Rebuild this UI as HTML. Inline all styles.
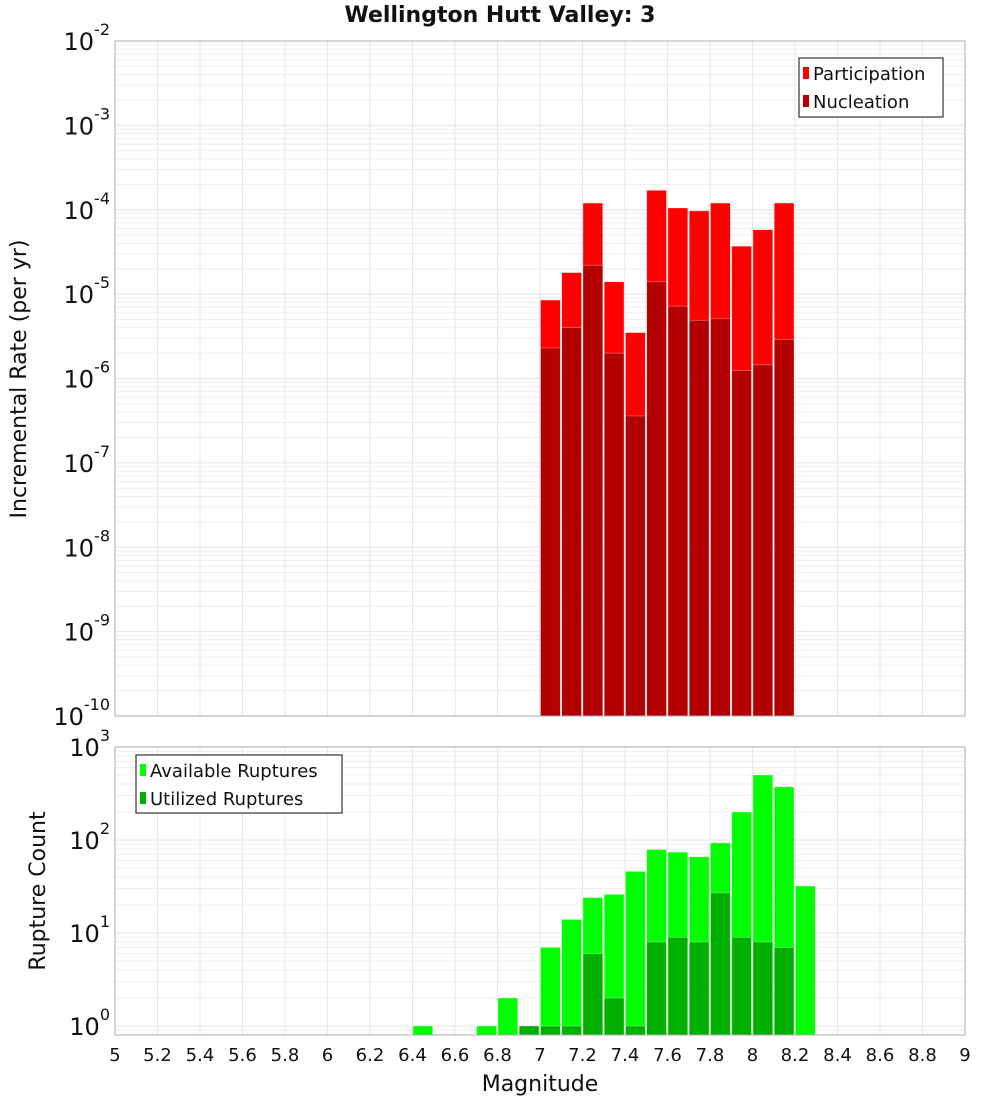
<!DOCTYPE html>
<html><head><meta charset="utf-8"><style>
body{margin:0;background:#fff;font-family:"Liberation Sans","DejaVu Sans",sans-serif}
svg text{font-family:"DejaVu Sans","Liberation Sans",sans-serif}
</style></head><body>
<svg id="c" width="1000" height="1100" xmlns="http://www.w3.org/2000/svg"></svg>
<script>
const binStarts=[7.0,7.1,7.2,7.3,7.4,7.5,7.6,7.7,7.8,7.9,8.0,8.1];
const participation=[8.5e-6,1.8e-5,1.2e-4,1.4e-5,3.5e-6,1.7e-4,1.05e-4,9.7e-5,1.2e-4,3.7e-5,5.8e-5,1.2e-4];
const nucleation=[2.3e-6,4e-6,2.2e-5,2e-6,3.6e-7,1.4e-5,7.2e-6,4.9e-6,5.1e-6,1.25e-6,1.45e-6,2.9e-6];
const countBins=[6.4,6.7,6.8,6.9,7.0,7.1,7.2,7.3,7.4,7.5,7.6,7.7,7.8,7.9,8.0,8.1,8.2];
const available=[1,1,2,1,7,14,24,26,46,79,74,66,93,200,500,372,32];
const utilized=[0,0,0,1,1,1,6,2,1,8,9,8,27,9,8,7,0];
const xTicks=[5,5.2,5.4,5.6,5.8,6,6.2,6.4,6.6,6.8,7,7.2,7.4,7.6,7.8,8,8.2,8.4,8.6,8.8,9];
const topExp=[-2,-3,-4,-5,-6,-7,-8,-9,-10];
const botExp=[3,2,1,0];

const NS="http://www.w3.org/2000/svg",svg=document.getElementById('c');
function el(t,a,p){const e=document.createElementNS(NS,t);for(const k in a)e.setAttribute(k,a[k]);(p||svg).appendChild(e);return e;}
const X0=115,X1=965;
const xs=m=>X0+(m-5)/4*(X1-X0);
const T0=41,T1=716; const yt=v=>T0+(-2-Math.log10(v))/8*(T1-T0);
const B0=747,B1=1035,BD=93; const yb=v=>B0+(3-Math.log10(v))*BD;

function grid(top,bot,yf,emax,emin,gname){
  const g=el('g',{});
  for(let e=emin-1;e<emax;e++)for(let k=1;k<10;k++){const y=yf(k*Math.pow(10,e));if(y<top||y>bot)continue;
    el('line',{x1:X0,x2:X1,y1:y,y2:y,stroke:k==1?'#e4e4e4':'#ededed','stroke-width':1},g);}
  xTicks.forEach(t=>{const x=xs(t);el('line',{x1:x,x2:x,y1:top,y2:bot,stroke:'#e6e6e6'},g);});
}
grid(T0,T1,yt,-2,-10,'top-grid');
grid(B0,B1,yb,3,-1,'bottom-grid');

function bar(m,v,yf,base,fill,name){const x=xs(m)+0.5,w=xs(m+0.1)-xs(m)-1.5,y=yf(v);
  const r=el('rect',{x:x,y:y,width:w,height:base-y,fill:fill,stroke:'rgba(255,255,255,0.5)','stroke-width':0.6});
  }
binStarts.forEach((m,i)=>bar(m,participation[i],yt,T1,'#ff0000','participation-bar'));
binStarts.forEach((m,i)=>bar(m,nucleation[i],yt,T1,'#b30000','nucleation-bar'));
countBins.forEach((m,i)=>bar(m,available[i],yb,B1,'#00ff00','available-bar'));
countBins.forEach((m,i)=>{if(utilized[i]>0)bar(m,utilized[i],yb,B1,'#00b000','utilized-bar');});

el('rect',{x:X0,y:T0,width:X1-X0,height:T1-T0,fill:'none',stroke:'#aaa'});
el('rect',{x:X0,y:B0,width:X1-X0,height:B1-B0,fill:'none',stroke:'#aaa'});

function txt(x,y,s,sz,anchor,name,extra){const t=el('text',Object.assign({x:x,y:y,'font-size':sz,'text-anchor':anchor||'start',fill:'#111'},extra||{}));t.textContent=s;return t;}
function powLabel(y,e,name){const t=txt(110,y+9,'',24,'end',name);const a=el('tspan',{},t);a.textContent='10';const b=el('tspan',{'font-size':16,dy:-15},t);b.textContent=String(e);}
topExp.forEach(e=>powLabel(yt(Math.pow(10,e)),e,'y-tick-label'));
botExp.forEach(e=>powLabel(yb(Math.pow(10,e)),e,'y2-tick-label'));
xTicks.forEach(t=>txt(xs(t),1061,String(t),18,'middle','x-tick-label'));

txt(500,22,'Wellington Hutt Valley: 3',22,'middle','chart-title',{'font-weight':'bold'});
txt(540,1091,'Magnitude',22,'middle','x-axis-title');
txt(0,0,'Incremental Rate (per yr)',22,'middle','y-axis-title',{transform:'translate(26,379) rotate(-90)'});
txt(0,0,'Rupture Count',22,'middle','y2-axis-title',{transform:'translate(45,891) rotate(-90)'});

function legend(x,y,w,h,items,name){const g=el('g',{});
  el('rect',{x:x,y:y,width:w,height:h,fill:'#fff',stroke:'#333','stroke-width':1.2},g);
  items.forEach((it,i)=>{const cy=y+15+i*28;el('rect',{x:x+4,y:cy-6,width:6,height:12,fill:it[1]},g);
    const t=el('text',{x:x+14,y:cy+7,'font-size':18,fill:'#111'},g);t.textContent=it[0];});}
legend(799,58,144,59,[['Participation','#ff0000'],['Nucleation','#b30000']],'top-legend');
legend(136,755,206,58,[['Available Ruptures','#00ff00'],['Utilized Ruptures','#00b000']],'bottom-legend');
</script>
</body></html>
